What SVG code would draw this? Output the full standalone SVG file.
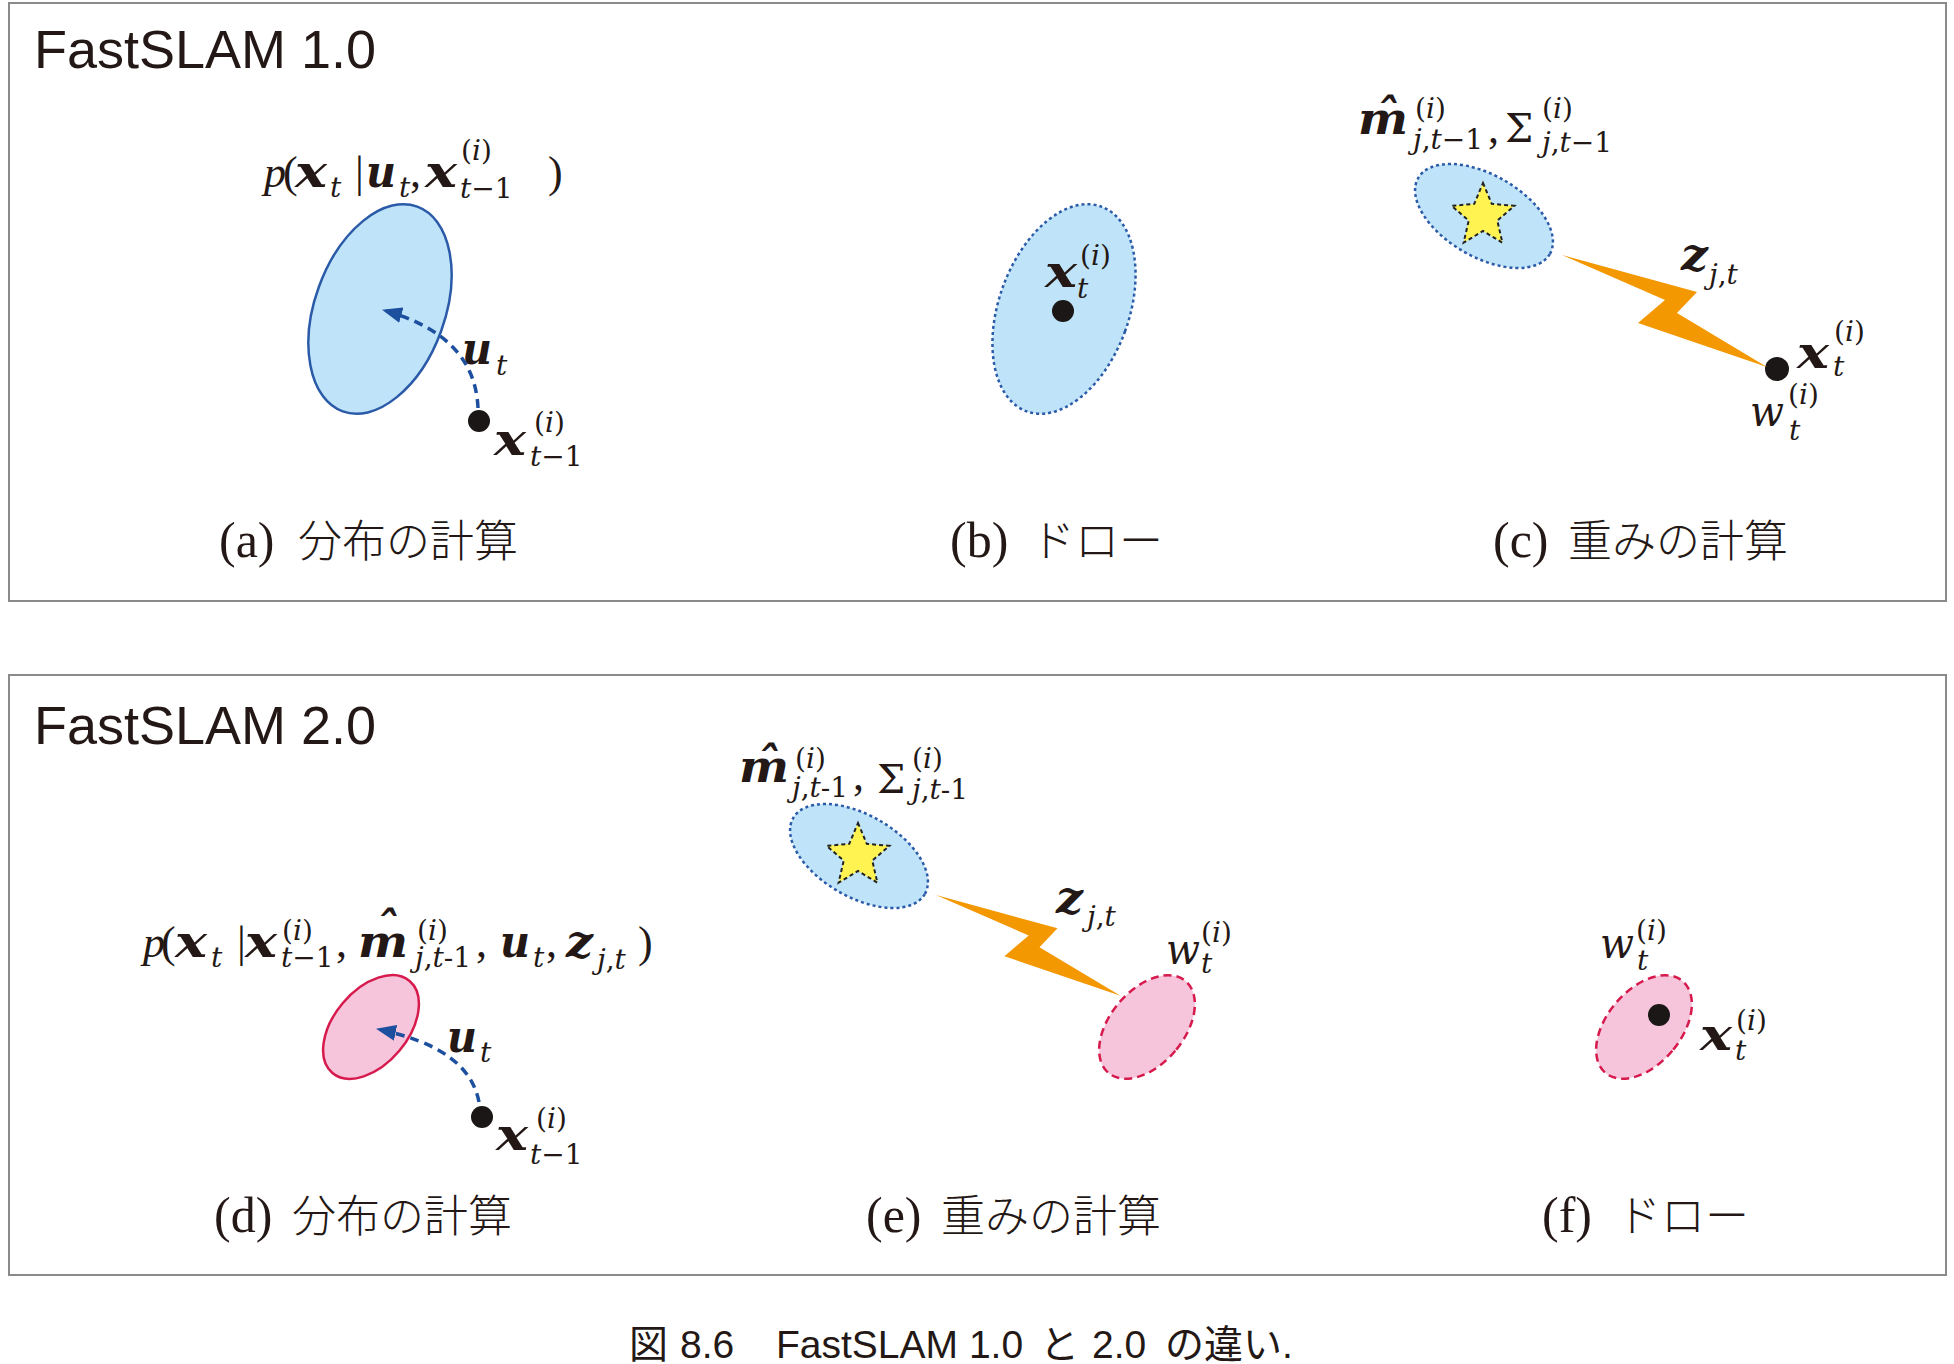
<svg xmlns="http://www.w3.org/2000/svg" xmlns:xlink="http://www.w3.org/1999/xlink" width="1954" height="1364" viewBox="0 0 1954 1364">
<style>
.panel{fill:#fff;stroke:#8a8a8a;stroke-width:2}
.title{font-family:"Liberation Sans",Arial,sans-serif;font-size:54px;fill:#231815}
.capl{font-family:"Liberation Serif",serif;font-size:50px;fill:#231815}
.capj{font-family:"Noto Sans CJK JP","Noto Sans CJK SC",sans-serif;font-size:44px;fill:#231815;font-weight:300}
.mi{font-family:"Liberation Serif",serif;font-style:italic;font-size:44px;fill:#231815}
.mr{font-family:"Liberation Serif",serif;font-size:44px;fill:#231815}
.mb{font-family:"DejaVu Serif",serif;font-style:italic;font-weight:bold;font-size:44px;fill:#231815}
.wi{font-family:"DejaVu Serif",serif;font-style:italic;font-size:42px;fill:#231815}
.sg{font-family:"DejaVu Serif",serif;font-size:40px;fill:#231815}
.sr{font-family:"DejaVu Serif",serif;font-size:28px;fill:#231815}
.it{font-style:italic}
.ellB{fill:#bfe3f8;stroke:#2b5ba8;stroke-width:2.5}
.ellBd{fill:#bfe3f8;stroke:#2b5ba8;stroke-width:2.5;stroke-dasharray:3 3}
.ellP{fill:#f6c5db;stroke:#d71a4d;stroke-width:2.5}
.ellPd{fill:#f6c5db;stroke:#d71a4d;stroke-width:2.5;stroke-dasharray:8 5}
.star{fill:#fff352;stroke:#222;stroke-width:2;stroke-dasharray:4 3}
.bolt{fill:#f39800}
.dot{fill:#1a1716}
.arr{fill:none;stroke:#1d4f9f;stroke-width:3.5;stroke-dasharray:9 6}
.figcap{font-family:"Liberation Sans","Noto Sans CJK JP",sans-serif;font-size:39px;fill:#231815}
</style>
<defs>
<marker id="ah" viewBox="0 0 20 16" refX="19" refY="8" markerWidth="20" markerHeight="16" markerUnits="userSpaceOnUse" orient="auto">
<path d="M0,0 L20,8 L0,16 z" fill="#1d4f9f"/>
</marker>
<polygon id="starShape" class="star" points="0,-33 8.8,-12.1 31.4,-10.2 14.3,4.6 19.4,26.7 0,15 -19.4,26.7 -14.3,4.6 -31.4,-10.2 -8.8,-12.1"/>
<polygon id="boltShape" class="bolt" points="0,0 135,37 115,58 205,112 76,68 103,45"/>
</defs>

<g id="panel1">
<rect class="panel" x="9" y="3" width="1937" height="598"/>
<text class="title" x="34" y="68">FastSLAM 1.0</text>
</g>
<g id="panel2">
<rect class="panel" x="9" y="675" width="1937" height="600"/>
<text class="title" x="34" y="744">FastSLAM 2.0</text>
</g>

<g id="node-a">
<ellipse class="ellB" cx="380" cy="309" rx="65" ry="109" transform="rotate(20 380 309)"/>
<circle class="dot" cx="479" cy="421" r="11"/>
<text class="mi" x="264" y="187">p</text>
<text class="mr" x="283" y="187">(</text>
<text class="mb" x="295" y="187" textLength="32" lengthAdjust="spacingAndGlyphs">x</text>
<text class="sr it" x="330" y="197">t</text>
<text class="mr" x="355" y="187">|</text>
<text class="mb" x="366" y="187" textLength="30" lengthAdjust="spacingAndGlyphs">u</text>
<text class="sr it" x="399" y="197">t</text>
<text class="mr" x="410" y="187">,</text>
<text class="mb" x="425" y="187" textLength="32" lengthAdjust="spacingAndGlyphs">x</text>
<text class="sr" x="461" y="160">(<tspan class="it">i</tspan>)</text>
<text class="sr" x="460" y="198"><tspan class="it">t</tspan>−1</text>
<text class="mr" x="548" y="187">)</text>
<text class="mb" x="462" y="364" textLength="30" lengthAdjust="spacingAndGlyphs">u</text>
<text class="sr it" x="496" y="375">t</text>
<text class="mb" x="494" y="455" textLength="32" lengthAdjust="spacingAndGlyphs">x</text>
<text class="sr" x="534" y="432">(<tspan class="it">i</tspan>)</text>
<text class="sr" x="530" y="466"><tspan class="it">t</tspan>−1</text>
<text class="capl" x="219" y="557">(a)</text>
<text class="capj" x="298" y="557">分布の計算</text>
</g>

<g id="node-b">
<ellipse class="ellBd" cx="1064" cy="309" rx="65" ry="109" transform="rotate(20 1064 309)"/>
<circle class="dot" cx="1063" cy="311" r="11"/>
<text class="mb" x="1045" y="287" textLength="32" lengthAdjust="spacingAndGlyphs">x</text>
<text class="sr" x="1080" y="265">(<tspan class="it">i</tspan>)</text>
<text class="sr it" x="1077" y="298">t</text>
<text class="capl" x="950" y="557">(b)</text>
<text class="capj" x="1031" y="557">ドロー</text>
</g>

<g id="node-c">
<ellipse class="ellBd" cx="1484" cy="216" rx="76" ry="41" transform="rotate(30 1484 216)"/>
<use xlink:href="#starShape" href="#starShape" transform="translate(1483 216)"/>
<circle class="dot" cx="1777" cy="369" r="12"/>
<text class="mb" x="1358" y="134" textLength="50" lengthAdjust="spacingAndGlyphs">m</text>
<text class="mb" x="1387" y="131" text-anchor="middle">ˆ</text>
<text class="sr" x="1415" y="118">(<tspan class="it">i</tspan>)</text>
<text class="sr" x="1413" y="149"><tspan class="it">j</tspan>,<tspan class="it">t</tspan>−1</text>
<text class="mr" x="1488" y="143">,</text>
<text class="sg" x="1505" y="142">Σ</text>
<text class="sr" x="1542" y="118">(<tspan class="it">i</tspan>)</text>
<text class="sr" x="1542" y="152"><tspan class="it">j</tspan>,<tspan class="it">t</tspan>−1</text>
<text class="mb" x="1681" y="270" textLength="27" lengthAdjust="spacingAndGlyphs">z</text>
<text class="sr" x="1709" y="284"><tspan class="it">j</tspan>,<tspan class="it">t</tspan></text>
<text class="mb" x="1797" y="368" textLength="32" lengthAdjust="spacingAndGlyphs">x</text>
<text class="sr" x="1834" y="341">(<tspan class="it">i</tspan>)</text>
<text class="sr it" x="1833" y="376">t</text>
<text class="wi" x="1750" y="426" textLength="34" lengthAdjust="spacingAndGlyphs">w</text>
<text class="sr" x="1788" y="404">(<tspan class="it">i</tspan>)</text>
<text class="sr it" x="1789" y="440">t</text>
<text class="capl" x="1493" y="557">(c)</text>
<text class="capj" x="1568" y="557">重みの計算</text>
</g>

<g id="node-d">
<ellipse class="ellP" cx="371" cy="1027" rx="37" ry="60" transform="rotate(40 371 1027)"/>
<circle class="dot" cx="482" cy="1117" r="11"/>
<text class="mi" x="143" y="957">p</text>
<text class="mr" x="161" y="957">(</text>
<text class="mb" x="175" y="957" textLength="32" lengthAdjust="spacingAndGlyphs">x</text>
<text class="sr it" x="211" y="967">t</text>
<text class="mr" x="237" y="957">|</text>
<text class="mb" x="245" y="957" textLength="32" lengthAdjust="spacingAndGlyphs">x</text>
<text class="sr" x="282" y="940">(<tspan class="it">i</tspan>)</text>
<text class="sr" x="281" y="967"><tspan class="it">t</tspan>−1</text>
<text class="mr" x="336" y="957">,</text>
<text class="mb" x="358" y="957" textLength="50" lengthAdjust="spacingAndGlyphs">m</text>
<text class="mb" x="387" y="944" text-anchor="middle">ˆ</text>
<text class="sr" x="417" y="940">(<tspan class="it">i</tspan>)</text>
<text class="sr" x="415" y="967"><tspan class="it">j</tspan>,<tspan class="it">t</tspan>-1</text>
<text class="mr" x="476" y="957">,</text>
<text class="mb" x="500" y="957" textLength="30" lengthAdjust="spacingAndGlyphs">u</text>
<text class="sr it" x="533" y="967">t</text>
<text class="mr" x="546" y="957">,</text>
<text class="mb" x="566" y="957" textLength="27" lengthAdjust="spacingAndGlyphs">z</text>
<text class="sr" x="597" y="969"><tspan class="it">j</tspan>,<tspan class="it">t</tspan></text>
<text class="mr" x="638" y="957">)</text>
<text class="mb" x="447" y="1052" textLength="30" lengthAdjust="spacingAndGlyphs">u</text>
<text class="sr it" x="480" y="1062">t</text>
<text class="mb" x="496" y="1150" textLength="32" lengthAdjust="spacingAndGlyphs">x</text>
<text class="sr" x="536" y="1128">(<tspan class="it">i</tspan>)</text>
<text class="sr" x="530" y="1164"><tspan class="it">t</tspan>−1</text>
<text class="capl" x="214" y="1232">(d)</text>
<text class="capj" x="292" y="1232">分布の計算</text>
</g>

<g id="node-e">
<ellipse class="ellBd" cx="859" cy="856" rx="76" ry="41" transform="rotate(30 859 856)"/>
<use xlink:href="#starShape" href="#starShape" transform="translate(858 856)"/>
<ellipse class="ellPd" cx="1147" cy="1027" rx="37" ry="60" transform="rotate(40 1147 1027)"/>
<text class="mb" x="739" y="782" textLength="50" lengthAdjust="spacingAndGlyphs">m</text>
<text class="mb" x="768" y="779" text-anchor="middle">ˆ</text>
<text class="sr" x="795" y="768">(<tspan class="it">i</tspan>)</text>
<text class="sr" x="792" y="797"><tspan class="it">j</tspan>,<tspan class="it">t</tspan>-1</text>
<text class="mr" x="853" y="790">,</text>
<text class="sg" x="877" y="793">Σ</text>
<text class="sr" x="912" y="768">(<tspan class="it">i</tspan>)</text>
<text class="sr" x="912" y="799"><tspan class="it">j</tspan>,<tspan class="it">t</tspan>-1</text>
<text class="mb" x="1056" y="913" textLength="27" lengthAdjust="spacingAndGlyphs">z</text>
<text class="sr" x="1087" y="926"><tspan class="it">j</tspan>,<tspan class="it">t</tspan></text>
<text class="wi" x="1166" y="964" textLength="34" lengthAdjust="spacingAndGlyphs">w</text>
<text class="sr" x="1201" y="942">(<tspan class="it">i</tspan>)</text>
<text class="sr it" x="1201" y="973">t</text>
<text class="capl" x="866" y="1232">(e)</text>
<text class="capj" x="941" y="1232">重みの計算</text>
</g>

<g id="node-f">
<ellipse class="ellPd" cx="1644" cy="1027" rx="37" ry="60" transform="rotate(40 1644 1027)"/>
<circle class="dot" cx="1659" cy="1015" r="11"/>
<text class="wi" x="1600" y="958" textLength="34" lengthAdjust="spacingAndGlyphs">w</text>
<text class="sr" x="1636" y="940">(<tspan class="it">i</tspan>)</text>
<text class="sr it" x="1637" y="970">t</text>
<text class="mb" x="1700" y="1050" textLength="32" lengthAdjust="spacingAndGlyphs">x</text>
<text class="sr" x="1736" y="1030">(<tspan class="it">i</tspan>)</text>
<text class="sr it" x="1735" y="1060">t</text>
<text class="capl" x="1542" y="1232">(f)</text>
<text class="capj" x="1617" y="1232">ドロー</text>
</g>

<g id="connectors">
<path class="arr" d="M478 408 C476 362 448 328 383 310" marker-end="url(#ah)"/>
<path class="arr" d="M479 1102 C472 1066 440 1042 377 1029" marker-end="url(#ah)"/>
<use xlink:href="#boltShape" href="#boltShape" transform="translate(1562 255)"/>
<use xlink:href="#boltShape" href="#boltShape" transform="translate(936 895) scale(0.9)"/>
</g>

<g id="caption">
<text class="figcap" y="1358"><tspan x="629">図</tspan><tspan x="680">8.6</tspan><tspan x="776">FastSLAM 1.0</tspan><tspan x="1040">と</tspan><tspan x="1092">2.0</tspan><tspan x="1165">の違い.</tspan></text>
</g>
</svg>
